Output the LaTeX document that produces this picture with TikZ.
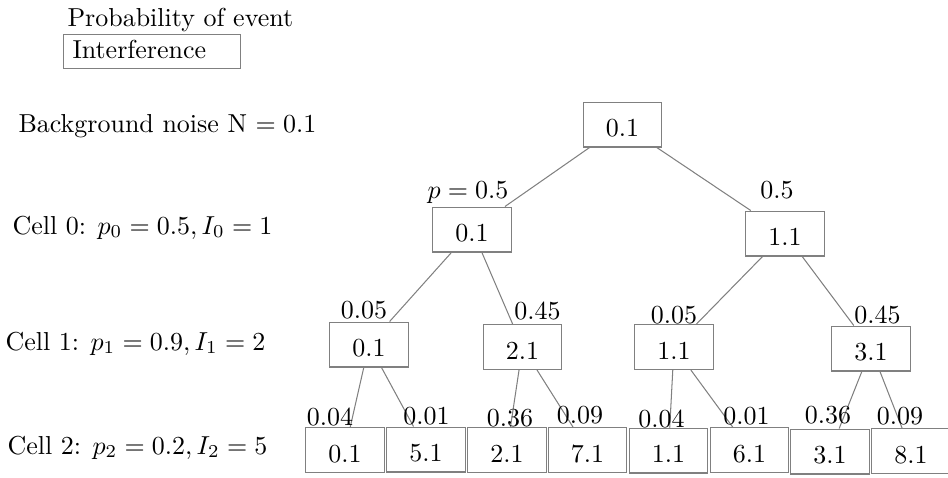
\documentclass[tikz,border=0pt]{standalone}
\usetikzlibrary{calc}
\begin{document}
\begin{tikzpicture}[
  x={(0.385pt,0)}, y={(0,-0.385pt)},
  valbox/.style={draw=gray, line width=0.4pt, minimum width=30.2pt, minimum height=17.3pt,
    inner sep=0pt, text height=9.5pt, text depth=0pt},
  link/.style={draw=gray, line width=0.4pt},
  plabel/.style={anchor=base, inner sep=0pt},
  rowlabel/.style={anchor=base west, inner sep=0pt}
]
\useasboundingbox (0,0) rectangle (948,477);

% legend and row captions
\node[rowlabel] (legendp) at (67,26) {Probability of event};
\node[draw=gray, line width=0.4pt, anchor=north west, minimum width=68.1pt, minimum height=13.1pt,
      inner sep=0pt] (legendi) at (63,34) {};
\node[rowlabel] (legenditxt) at (72,58) {Interference};
\node[rowlabel] (noise) at (18,132) {Background noise N $=0.1$};
\node[rowlabel] (cell0) at (12,234) {Cell 0: $p_0=0.5, I_0=1$};
\node[rowlabel] (cell1) at (5,350) {Cell 1: $p_1=0.9, I_1=2$};
\node[rowlabel] (cell2) at (7,454) {Cell 2: $p_2=0.2, I_2=5$};

% interference values of the tree
\node[valbox] (r) at (622.5,124.5) {0.1};
\node[valbox] (a) at (472,229.5) {0.1};
\node[valbox] (b) at (785,233.5) {1.1};
\node[valbox] (aa) at (369,344.5) {0.1};
\node[valbox] (ab) at (522.5,347) {2.1};
\node[valbox] (ba) at (674,347) {1.1};
\node[valbox] (bb) at (871,348.5) {3.1};
\node[valbox] (aaa) at (345,450) {0.1};
\node[valbox] (aab) at (426,449.5) {5.1};
\node[valbox] (aba) at (507,450) {2.1};
\node[valbox] (abb) at (587.5,450) {7.1};
\node[valbox] (baa) at (668.5,450.5) {1.1};
\node[valbox] (bab) at (749.5,450) {6.1};
\node[valbox] (bba) at (830,451.5) {3.1};
\node[valbox] (bbb) at (911,451) {8.1};

% branches
\draw[link] (r) -- (a);
\draw[link] (r) -- (b);
\draw[link] (a) -- (aa);
\draw[link] (a) -- (ab);
\draw[link] (b) -- (ba);
\draw[link] (b) -- (bb);
\draw[link] (aa) -- (aaa);
\draw[link] (aa) -- (aab);
\draw[link] (ab) -- (aba);
\draw[link] (ab) -- (abb);
\draw[link] (ba) -- (baa);
\draw[link] (ba) -- (bab);
\draw[link] (bb) -- (bba);
\draw[link] (bb) -- (bbb);

% probabilities
\node[plabel] (pa) at (468,198) {$p=0.5$};
\node[plabel] (pb) at (777,198) {$0.5$};
\node[plabel] (paa) at (364,318) {$0.05$};
\node[plabel] (pab) at (537.5,319) {$0.45$};
\node[plabel] (pba) at (674,323) {$0.05$};
\node[plabel] (pbb) at (877.5,323) {$0.45$};
\node[plabel] (paaa) at (330,425) {$0.04$};
\node[plabel] (paab) at (426.5,424) {$0.01$};
\node[plabel] (paba) at (510,426) {$0.36$};
\node[plabel] (pabb) at (580,423) {$0.09$};
\node[plabel] (pbaa) at (661.5,427) {$0.04$};
\node[plabel] (pbab) at (746.5,424) {$0.01$};
\node[plabel] (pbba) at (828,423) {$0.36$};
\node[plabel] (pbbb) at (900,424) {$0.09$};
\end{tikzpicture}
\end{document}
